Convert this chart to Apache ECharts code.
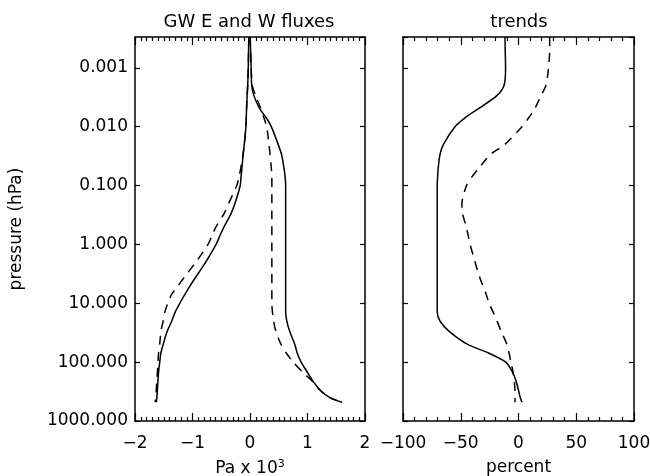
<!DOCTYPE html>
<html><head><meta charset="utf-8">
<script src="https://cdn.jsdelivr.net/npm/echarts@6/dist/echarts.min.js"></script>
<style>html,body{margin:0;padding:0;background:#fff}#c{width:650px;height:476px}</style>
</head><body><div id="c"></div>
<script>
// pressure levels (hPa)
const pressure = [0.0003, 0.0005, 0.001, 0.002, 0.003, 0.005, 0.007, 0.01, 0.02, 0.03, 0.05, 0.07, 0.1, 0.2, 0.3, 0.5, 0.7, 1, 2, 3, 5, 7, 10, 14, 20, 30, 50, 70, 100, 150, 200, 300, 400, 480];
// left panel: GW fluxes (Pa x 10^3)
const eastSolid  = [0.0, 0.01, 0.02, 0.03, 0.07, 0.17, 0.28, 0.37, 0.49, 0.55, 0.59, 0.61, 0.62, 0.62, 0.62, 0.62, 0.62, 0.62, 0.62, 0.62, 0.62, 0.62, 0.62, 0.62, 0.64, 0.69, 0.78, 0.82, 0.89, 1.0, 1.08, 1.22, 1.39, 1.6];
const eastDashed = [0.0, 0.01, 0.02, 0.04, 0.1, 0.19, 0.24, 0.29, 0.33, 0.35, 0.37, 0.38, 0.38, 0.38, 0.38, 0.38, 0.38, 0.38, 0.38, 0.38, 0.38, 0.38, 0.38, 0.39, 0.41, 0.45, 0.54, 0.63, 0.75, 0.92, 1.06, 1.22, 1.39, 1.6];
const westSolid  = [-0.02, -0.025, -0.03, -0.04, -0.05, -0.06, -0.065, -0.07, -0.1, -0.12, -0.14, -0.155, -0.17, -0.26, -0.33, -0.45, -0.52, -0.59, -0.77, -0.89, -1.04, -1.13, -1.22, -1.3, -1.36, -1.44, -1.51, -1.55, -1.57, -1.59, -1.6, -1.61, -1.62, -1.63];
const westDashed = [-0.02, -0.025, -0.03, -0.04, -0.05, -0.06, -0.065, -0.07, -0.1, -0.12, -0.16, -0.19, -0.23, -0.37, -0.45, -0.59, -0.66, -0.73, -0.94, -1.08, -1.25, -1.36, -1.43, -1.48, -1.51, -1.55, -1.57, -1.59, -1.6, -1.61, -1.62, -1.63, -1.64, -1.65];
// right panel: trends (percent)
const trendSolid  = [-11.7, -11.5, -11.2, -12.5, -19, -35, -46, -55, -65, -68, -69.5, -70, -70.4, -70.4, -70.4, -70.4, -70.4, -70.4, -70.4, -70.4, -70.4, -70.4, -70.4, -70.4, -68, -60, -44, -26, -11, -5, -2.5, 0, 1.5, 3];
const trendDashed = [27, 27, 26, 23.7, 19.4, 14, 9, 3, -11.7, -24.6, -34, -40, -45, -49, -48.4, -45.3, -43.6, -41.9, -37.6, -35, -31, -28, -25.5, -22, -18.6, -15, -10, -8.2, -6.5, -4.7, -3.9, -3, -3, -3];
// tick labels
const pressureTicks = ['0.001', '0.010', '0.100', '1.000', '10.000', '100.000', '1000.000'];

const FONT = 'DejaVu Sans';
const FS = 17;
const chart = echarts.init(document.getElementById('c'));
const pairs = xs => xs.map((v, i) => [v, pressure[i]]);
const minus = v => String(v).replace('-', '\u2212');

function yAxis(grid, pos, labels) {
  return {
    type: 'log', logBase: 10, min: 0.0003, max: 1000, inverse: true,
    gridIndex: grid, position: pos,
    axisLine: { show: true, onZero: false, lineStyle: { color: '#000', width: 1.5 } },
    axisTick: { show: true, inside: true, length: 5, lineStyle: { color: '#000', width: 1.2 } },
    axisLabel: labels ? {
      show: true, showMinLabel: false, color: '#000', fontFamily: FONT, fontSize: FS, margin: 7,
      formatter: v => { const k = Math.round(Math.log10(v)) + 3; return pressureTicks[k] !== undefined ? pressureTicks[k] : ''; }
    } : { show: false },
    splitLine: { show: false },
    name: labels ? 'pressure (hPa)' : '', nameLocation: 'middle', nameGap: 110,
    nameTextStyle: { color: '#000', fontFamily: FONT, fontSize: FS }
  };
}
function xAxis(grid, pos, min, max, interval, minorSplit, labels, name) {
  return {
    type: 'value', gridIndex: grid, position: pos, min: min, max: max, interval: interval,
    axisLine: { show: true, onZero: false, lineStyle: { color: '#000', width: 1.5 } },
    axisTick: { show: true, inside: true, length: 8, lineStyle: { color: '#000', width: 1.2 } },
    minorTick: { show: true, splitNumber: minorSplit, length: 4, lineStyle: { color: '#000', width: 1.2 } },
    axisLabel: labels ? { show: true, color: '#000', fontFamily: FONT, fontSize: FS, margin: 14, formatter: minus } : { show: false },
    splitLine: { show: false }, minorSplitLine: { show: false },
    name: name || '', nameLocation: 'middle', nameGap: 38,
    nameTextStyle: { color: '#000', fontFamily: FONT, fontSize: FS,
      rich: { sup: { fontFamily: FONT, fontSize: 11, color: '#000', padding: [0, 0, 9, 0] } } }
  };
}
function line(xs, xi, yi, dashed) {
  return {
    type: 'line', data: pairs(xs), xAxisIndex: xi, yAxisIndex: yi,
    showSymbol: false, symbol: 'none', smooth: 0.25, silent: true, animation: false,
    lineStyle: { color: '#000', width: 1.5, type: dashed ? [9, 7] : 'solid' }
  };
}
const titleFont = '18px "' + FONT + '"';

chart.setOption({
  animation: false,
  backgroundColor: '#fff',
  grid: [
    { left: 135, top: 37, width: 230, height: 384, outerBoundsMode: 'none', containLabel: false },
    { left: 403, top: 37, width: 231, height: 384, outerBoundsMode: 'none', containLabel: false }
  ],
  xAxis: [
    xAxis(0, 'bottom', -2, 2, 1, 10, true, 'Pa x 10{sup|3}'),
    xAxis(0, 'top', -2, 2, 1, 10, false),
    xAxis(1, 'bottom', -100, 100, 50, 5, true, 'percent'),
    xAxis(1, 'top', -100, 100, 50, 5, false)
  ],
  yAxis: [
    yAxis(0, 'left', true),
    yAxis(0, 'right', false),
    yAxis(1, 'left', false),
    yAxis(1, 'right', false)
  ],
  graphic: [
    { type: 'text', x: 249, y: 22, style: { text: 'GW E and W fluxes', font: titleFont, fill: '#000', textAlign: 'center', textVerticalAlign: 'middle' } },
    { type: 'text', x: 519, y: 22, style: { text: 'trends', font: titleFont, fill: '#000', textAlign: 'center', textVerticalAlign: 'middle' } }
  ],
  series: [
    line(eastSolid, 0, 0, false),
    line(eastDashed, 0, 0, true),
    line(westSolid, 0, 0, false),
    line(westDashed, 0, 0, true),
    line(trendSolid, 2, 2, false),
    line(trendDashed, 2, 2, true)
  ]
});
</script></body></html>
